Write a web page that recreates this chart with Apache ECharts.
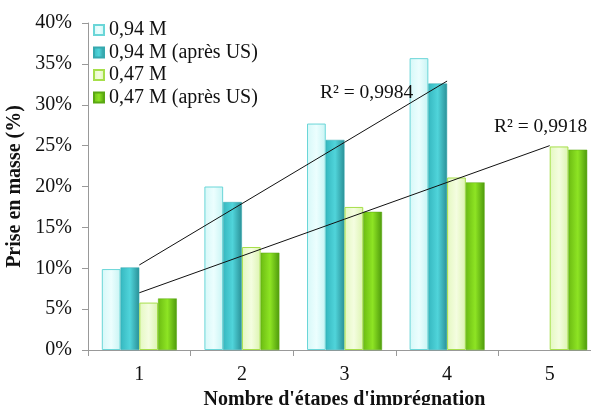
<!DOCTYPE html>
<html>
<head>
<meta charset="utf-8">
<script src="https://cdn.jsdelivr.net/npm/echarts@6/dist/echarts.min.js"></script>
<style>
html,body{margin:0;padding:0;background:#fff;}
#c{width:591px;height:405px;}
</style>
</head>
<body>
<div id="c"></div>
<script>
var categories = ['1', '2', '3', '4', '5'];
var seriesNames = ['0,94 M', '0,94 M (après US)', '0,47 M', '0,47 M (après US)'];
var s094 = [9.9, 20.0, 27.7, 35.7, null];
var s094US = [10.1, 18.1, 25.7, 32.6, null];
var s047 = [5.8, 12.6, 17.5, 21.1, 24.9];
var s047US = [6.3, 11.9, 16.9, 20.5, 24.5];
var trend094US = [10.4, 17.9, 25.4, 32.9, null];
var trend047US = [7.0, 11.5, 16.0, 20.5, 25.0];
var r2Labels = ['R² = 0,9984', 'R² = 0,9918'];
var yTicks = { min: 0, max: 40, interval: 5 };

var FONT = '"Liberation Serif", "Times New Roman", serif';
function hgrad(a, b, c) {
  return new echarts.graphic.LinearGradient(0, 0, 1, 0, [
    { offset: 0, color: a }, { offset: 0.5, color: b }, { offset: 1, color: c }
  ]);
}
var styles = [
  { color: hgrad('#d6f8f8', '#ecfefe', '#c8f4f4'), borderColor: '#6ad6d8', borderWidth: 1 },
  { color: hgrad('#36b8c0', '#50d4da', '#2a9097'), borderColor: '#36a8ae', borderWidth: 0.5 },
  { color: hgrad('#e4f8c0', '#f4fde0', '#dcf4b0'), borderColor: '#a6df4a', borderWidth: 1 },
  { color: hgrad('#6cbc12', '#8ee424', '#4e9a0c'), borderColor: '#5aa812', borderWidth: 0.5 }
];
var data = [s094, s094US, s047, s047US];
var series = data.map(function (d, i) {
  return {
    name: seriesNames[i], type: 'bar', data: d, barWidth: 18.75, barGap: '0%',
    itemStyle: styles[i], z: 2
  };
});
series.push({
  type: 'line', data: trend094US, symbol: 'none', silent: true, z: 5,
  lineStyle: { color: '#111', width: 1 }
});
series.push({
  type: 'line', data: trend047US, symbol: 'none', silent: true, z: 5,
  lineStyle: { color: '#111', width: 1 }
});

var chart = echarts.init(document.getElementById('c'), null, { renderer: 'canvas' });
chart.setOption({
  animation: false,
  backgroundColor: '#fff',
  textStyle: { fontFamily: FONT },
  grid: { left: 88, top: 23, bottom: 55, right: -10, containLabel: false, outerBoundsMode: 'none' },
  legend: {
    data: seriesNames, orient: 'vertical', left: 88, top: 15,
    itemWidth: 10, itemHeight: 10, itemGap: 2.5, icon: 'rect',
    textStyle: { fontFamily: FONT, fontSize: 20, color: '#111' }
  },
  xAxis: {
    type: 'category', data: categories,
    axisLine: { lineStyle: { color: '#999' } },
    axisTick: { show: true, length: 6, lineStyle: { color: '#999' } },
    axisLabel: { fontFamily: FONT, fontSize: 20, color: '#111', margin: 15 },
    name: "Nombre d'étapes d'imprégnation", nameLocation: 'middle', nameGap: 40,
    nameTextStyle: { fontFamily: FONT, fontSize: 20, fontWeight: 'bold', color: '#111' }
  },
  yAxis: {
    type: 'value', min: yTicks.min, max: yTicks.max, interval: yTicks.interval,
    axisLine: { show: true, lineStyle: { color: '#999' } },
    axisTick: { show: true, length: 6, lineStyle: { color: '#999' } },
    splitLine: { show: false },
    axisLabel: { formatter: '{value}%', fontFamily: FONT, fontSize: 20, color: '#111', margin: 16 },
    name: 'Prise en masse (%)', nameLocation: 'middle', nameGap: 57, nameRotate: 90,
    nameTextStyle: { fontFamily: FONT, fontSize: 20, fontWeight: 'bold', color: '#111' }
  },
  graphic: [
    { type: 'text', left: 320, top: 83, style: { text: r2Labels[0], font: '19.5px ' + FONT, fill: '#111' }, z: 10 },
    { type: 'text', left: 494, top: 117, style: { text: r2Labels[1], font: '19.5px ' + FONT, fill: '#111' }, z: 10 }
  ],
  series: series
});
</script>
</body>
</html>
